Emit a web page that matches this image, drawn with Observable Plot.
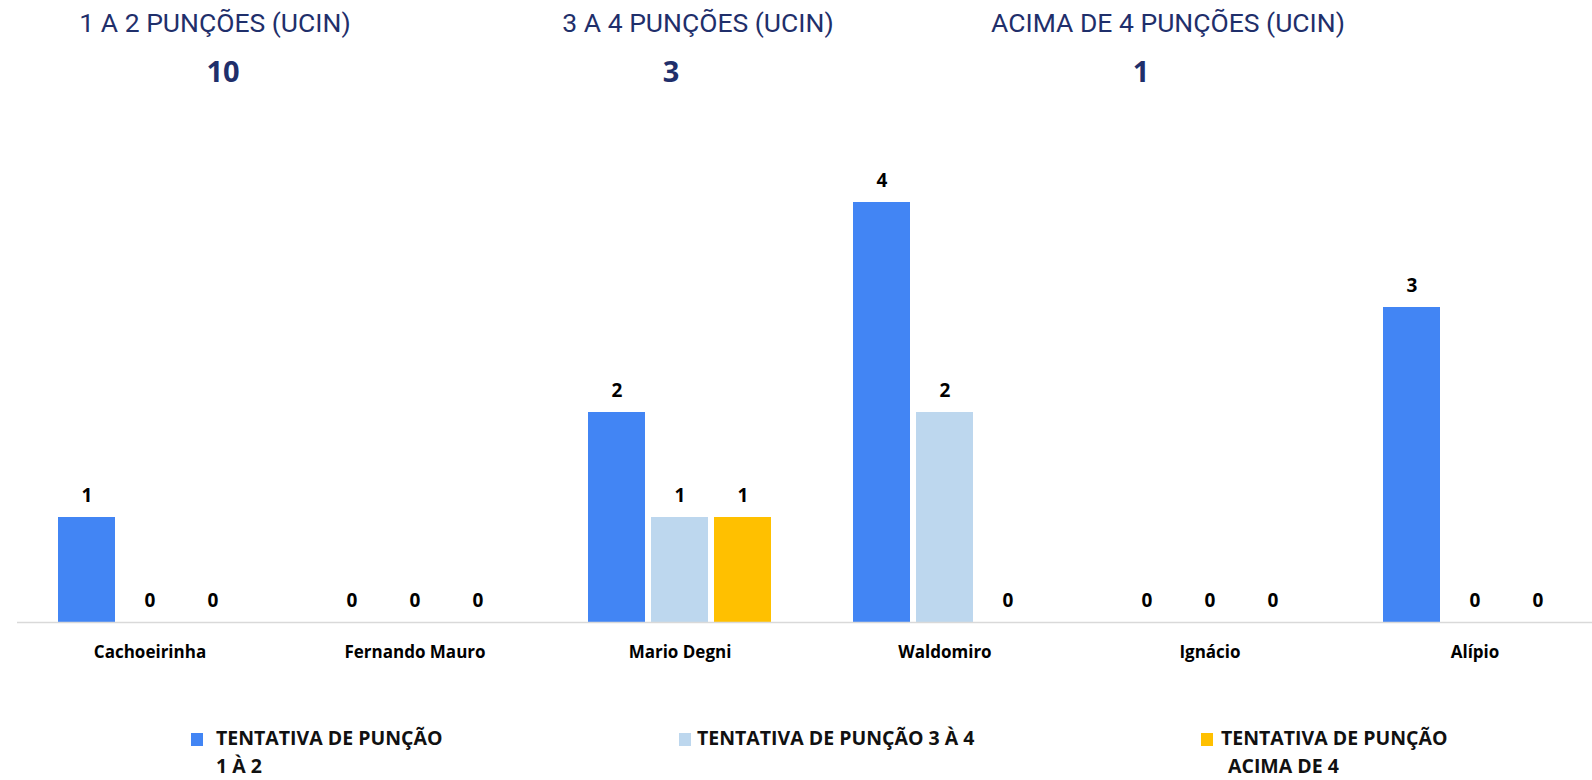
<!DOCTYPE html>
<html>
<head>
<meta charset="utf-8">
<script src="https://cdn.jsdelivr.net/npm/d3@7"></script>
<script src="https://cdn.jsdelivr.net/npm/@observablehq/plot@0.6"></script>
<style>
  html, body { margin: 0; padding: 0; background: #fff; }
  body { width: 1592px; height: 780px; position: relative; overflow: hidden; }
  #header { position: absolute; top: 0; left: 0; width: 1592px; height: 100px; }
  .ttl { position: absolute; top: 9.6px; transform: translateX(-50%); white-space: nowrap; line-height: 1;
         font-family: Roboto, sans-serif; font-size: 26.5px; color: #1F2F6B; }
  .num { position: absolute; top: 55.6px; transform: translateX(-50%); white-space: nowrap; line-height: 1;
         font-family: "Open Sans", sans-serif; font-weight: 700; font-size: 29px; color: #1F2F6B; }
  #chart { position: absolute; top: 100px; left: 0; width: 1592px; }
  #legend { position: absolute; top: 724px; left: 0; width: 1592px; height: 56px;
            font-family: "Open Sans", sans-serif; font-weight: 700; font-size: 19.5px; color: #111; }
  .sw { position: absolute; top: 9px; width: 12px; height: 13px; }
  .lab { position: absolute; top: 0; line-height: 28px; white-space: nowrap; }
</style>
</head>
<body>
<div id="header"></div>
<div id="chart"></div>
<div id="legend"></div>
<script>
// ---- data ----
const units = ["Cachoeirinha", "Fernando Mauro", "Mario Degni", "Waldomiro", "Ignácio", "Alípio"];
const series = ["TENTATIVA DE PUNÇÃO 1 À 2", "TENTATIVA DE PUNÇÃO 3 À 4", "TENTATIVA DE PUNÇÃO ACIMA DE 4"];
const tent12  = [1, 0, 2, 4, 0, 3];
const tent34  = [0, 0, 1, 2, 0, 0];
const acima4  = [0, 0, 1, 0, 0, 0];
const colors = ["#4285F4", "#BDD7EE", "#FFC000"];
const summaryTitles = ["1 A 2 PUNÇÕES (UCIN)", "3 A 4 PUNÇÕES (UCIN)", "ACIMA DE 4 PUNÇÕES (UCIN)"];
const summaryValues = [10, 3, 1];
const legendLines = [["TENTATIVA DE PUNÇÃO", "1 À 2"], ["TENTATIVA DE PUNÇÃO 3 À 4"], ["TENTATIVA DE PUNÇÃO", "ACIMA DE 4"]];

// ---- layout (positions only) ----
const titleX = [215, 698, 1168];
const numX = [223, 671, 1141];
const swatchX = [191, 679, 1201];
const legendTextX = [216, 697, 1221];
const legendIndent = [[0, 0], [0], [0, 7]];

const seriesValues = [tent12, tent34, acima4];
const data = [];
units.forEach((u, i) => series.forEach((s, j) => data.push({unit: u, serie: s, value: seriesValues[j][i]})));

// header
const header = document.getElementById("header");
summaryTitles.forEach((t, i) => {
  const d = document.createElement("div"); d.className = "ttl"; d.style.left = titleX[i] + "px"; d.textContent = t; header.appendChild(d);
  const n = document.createElement("div"); n.className = "num"; n.style.left = numX[i] + "px"; n.textContent = summaryValues[i]; header.appendChild(n);
});

// chart
const chart = Plot.plot({
  width: 1592,
  height: 590,
  marginLeft: 15,
  marginRight: 0,
  marginTop: 102,
  marginBottom: 68,
  style: {fontFamily: "'Open Sans', sans-serif", background: "transparent", overflow: "hidden"},
  fx: {domain: units, padding: 0, range: [15.2, 1608.8], label: null},
  x: {domain: series, paddingInner: 0.102, paddingOuter: 0.642, axis: null},
  y: {domain: [0, 4], axis: null},
  color: {domain: series, range: colors},
  marks: [
    Plot.barY(data, {fx: "unit", x: "serie", y: "value", fill: "serie"}),
    Plot.ruleY([0], {stroke: "#D9D9D9", strokeWidth: 1.5}),
    Plot.text(data, {fx: "unit", x: "serie", y: "value", text: d => String(d.value), dy: -22,
      fontSize: 19, fontWeight: "bold", fill: "#000"}),
    Plot.axisFx({anchor: "bottom", tickSize: 0, tickPadding: 23, fontSize: 17, fontWeight: "bold", fill: "#000", label: null})
  ]
});
document.getElementById("chart").appendChild(chart);

// legend
const legend = document.getElementById("legend");
series.forEach((s, i) => {
  const sw = document.createElement("div"); sw.className = "sw"; sw.style.background = colors[i]; sw.style.left = swatchX[i] + "px";
  legend.appendChild(sw);
  const lab = document.createElement("div"); lab.className = "lab"; lab.style.left = legendTextX[i] + "px";
  legendLines[i].forEach((line, k) => {
    const l = document.createElement("div"); l.textContent = line; l.style.paddingLeft = legendIndent[i][k] + "px"; lab.appendChild(l);
  });
  legend.appendChild(lab);
});
</script>
</body>
</html>
